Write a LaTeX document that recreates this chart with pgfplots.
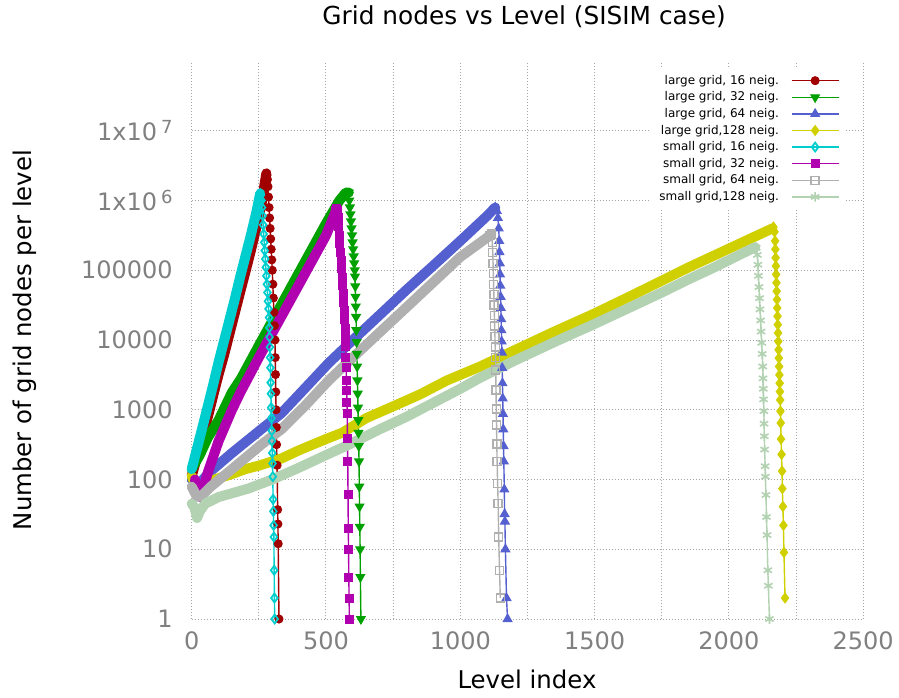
\documentclass[border=0pt]{standalone}
\usepackage{fontspec}
\setmainfont{DejaVu Sans}
\usepackage{pgfplots}
\pgfplotsset{compat=1.18}
\usetikzlibrary{calc}
\definecolor{cL16}{RGB}{160,0,0}
\definecolor{cL32}{RGB}{0,160,0}
\definecolor{cL64}{RGB}{85,96,208}
\definecolor{cL128}{RGB}{208,208,0}
\definecolor{cS16}{RGB}{0,206,206}
\definecolor{cS32}{RGB}{176,0,176}
\definecolor{cS64}{RGB}{176,176,176}
\definecolor{cS128}{RGB}{178,210,178}
\definecolor{gridc}{RGB}{165,165,165}
\definecolor{tickc}{RGB}{128,128,128}
\begin{document}
\begin{tikzpicture}
\begin{axis}[name=ax, scale only axis, width=335.75pt, height=279pt,
 xmin=0, xmax=2500, ymode=log, ymin=1, ymax=1e8,
 xtick={0,500,1000,1500,2000,2500}, xticklabels={0,500,1000,1500,2000,2500},
 minor x tick num=1,
 ytick={1,10,100,1000,10000,100000,1000000,10000000},
 yticklabels={1,10,100,1000,10000,100000,{1x10\,\raisebox{0.5ex}{\fontsize{9}{9}\selectfont 6}},{1x10\,\raisebox{0.5ex}{\fontsize{9}{9}\selectfont 7}}},
 xmajorgrids=true, xminorgrids=true, ymajorgrids=true, yminorgrids=false,
 major grid style={gridc, line width=0.5pt, dash pattern=on 0.5pt off 1pt},
 minor grid style={gridc, line width=0.5pt, dash pattern=on 0.5pt off 1pt},
 axis line style={draw=none},
 major tick length=0pt, minor tick length=0pt,
 tick label style={font=\fontsize{12}{14}\selectfont, text=tickc},
 yticklabel style={xshift=-6pt},
 xticklabel style={yshift=-3pt},
 clip=false,
 title={Grid nodes vs Level (SISIM case)},
 every axis title shift=0pt,
 every axis title/.style={at={(axis description cs:0.495,1.079)}, anchor=center, font=\fontsize{12.4}{14}\selectfont},
 xlabel={Level index},
 ylabel={Number of grid nodes per level},
 every axis x label/.style={at={(axis description cs:0.4993,-0.109)}, anchor=center, font=\fontsize{12.2}{14}\selectfont},
 every axis y label/.style={at={(axis description cs:-0.248,0.5)}, rotate=90, anchor=center, font=\fontsize{12.2}{14}\selectfont},
 legend style={at={(rel axis cs:0.974,0.9875)}, anchor=north east, draw=none, fill=white,
   font=\fontsize{6}{7}\selectfont, nodes={inner sep=1pt, text height=5pt, text depth=1.3pt},
   /tikz/every odd column/.append style={column sep=5pt}},
 legend cell align=right, legend plot pos=right,
 legend image code/.code={\draw[mark repeat=2,mark phase=2] plot coordinates {(0pt,0pt)(11.75pt,0pt)(23.5pt,0pt)};},
 band/.style={forget plot, no marks, line width=5pt, line join=round, line cap=round},
 desc/.style={line width=0.7pt, mark options={solid}},
]
% large grid, 16
\addplot[band, cL16] coordinates {(0,112)(20,210)(40,400)(60,790)(80,1600)(100,3200)(120,6000)(140,12000)(160,24000)(180,48000)(200,95000)(220,190000)(240,400000)(260,890000)(272,1780000)(278,2450000)};
\addplot[desc, cL16, mark=*, mark size=1.9pt] coordinates {(278,2450000)(280,2290000)(282,2000000)(284,1580000)(286,1120000)(288,794000)(290,562000)(292,398000)(294,282000)(296,200000)(298,141000)(300,100000)(302,63000)(304,40000)(306,25000)(308,16000)(310,10000)(311,5600)(312,3200)(313,1800)(314,1000)(315,560)(316,316)(318,160)(320,37)(321,23)(322,12)(325,1)};
\addlegendentry{large grid, 16 neig.}
% large grid, 32
\addplot[band, cL32] coordinates {(0,141)(30,224)(60,398)(100,708)(150,1780)(184,2820)(250,8320)(300,18600)(350,41700)(400,93300)(450,209000)(500,468000)(550,1000000)(574,1300000)(585,1300000)};
\addplot[desc, cL32, mark=triangle*, mark size=2.3pt, mark options={solid, rotate=180}] coordinates {(585,1300000)(587,1000000)(589,794000)(591,631000)(593,501000)(595,398000)(597,316000)(599,251000)(601,200000)(603,158000)(605,126000)(607,100000)(608,81300)(609,58900)(610,41700)(611,30200)(612,21400)(613,13800)(614,9330)(615,6310)(616,4170)(617,2630)(618,1700)(619,1070)(620,708)(621,468)(622,302)(623,182)(624,79)(625,41)(626,21)(627,10)(628,4)(630,1)};
\addlegendentry{large grid, 32 neig.}
% large grid, 64
\addplot[band, cL64] coordinates {(0,100)(30,89)(71,132)(150,240)(259,525)(334,891)(420,2000)(510,4680)(600,10000)(700,22900)(800,52500)(900,117000)(1000,263000)(1100,603000)(1130,794000)};
\addplot[desc, cL64, mark=triangle*, mark size=2.3pt] coordinates {(1130,794000)(1136,708000)(1140,562000)(1143,398000)(1145,263000)(1146,182000)(1147,126000)(1148,87100)(1149,60300)(1150,41700)(1151,28800)(1152,20000)(1153,13800)(1154,9550)(1155,6610)(1156,3980)(1157,2400)(1158,1450)(1159,870)(1160,525)(1161,302)(1162,182)(1164,72)(1165,32)(1166,25)(1168,10)(1172,2)(1176,1)};
\addlegendentry{large grid, 64 neig.}
% large grid, 128
\addplot[band, cL128] coordinates {(0,112)(10,89)(20,71)(30,63)(50,79)(86,100)(150,120)(200,141)(250,158)(334,200)(400,263)(450,316)(500,380)(560,468)(650,759)(750,1120)(850,1660)(950,2630)(1074,4170)(1200,7080)(1350,13200)(1500,24000)(1650,45700)(1750,70800)(1850,110000)(1950,166000)(2050,251000)(2162,398000)};
\addplot[desc, cL128, mark=diamond*, mark size=2.3pt] coordinates {(2162,398000)(2166,417000)(2170,355000)(2172,263000)(2173,200000)(2174,151000)(2175,115000)(2176,87100)(2177,66100)(2178,50100)(2179,38000)(2180,28800)(2181,21900)(2182,16600)(2183,12600)(2184,9550)(2185,7240)(2186,5500)(2187,4170)(2188,3160)(2189,2400)(2190,1820)(2191,1380)(2192,955)(2193,646)(2194,380)(2196,229)(2198,132)(2199,74)(2201,41)(2203,22)(2205,9)(2209,2)};
\addlegendentry{large grid,128 neig.}
% small grid, 16
\addplot[band, cS16] coordinates {(0,141)(20,280)(40,560)(60,1120)(80,2290)(100,4790)(120,9550)(140,19000)(160,38000)(180,79000)(200,158000)(220,316000)(240,660000)(255,1260000)};
\addplot[desc, cS16, mark=diamond, mark size=2.2pt, mark options={solid, line width=0.9pt}] coordinates {(255,1260000)(258,1200000)(260,1000000)(262,794000)(264,603000)(266,447000)(268,331000)(270,251000)(272,191000)(274,145000)(276,110000)(278,83000)(280,63000)(282,48000)(284,36000)(286,28000)(288,21000)(289,15000)(290,11000)(291,7900)(292,5600)(293,4000)(294,2450)(295,1700)(296,1070)(297,760)(298,500)(299,355)(300,240)(301,170)(302,110)(303,52)(304,35)(305,22)(306,15)(307,5)(308,2)(309,1)};
\addlegendentry{small grid, 16 neig.}
% small grid, 32
\addplot[band, cS32] coordinates {(12,100)(22,70)(34,56)(60,126)(100,355)(150,1000)(184,1860)(250,5620)(300,12600)(350,28200)(400,63100)(450,141000)(500,316000)(537,708000)};
\addplot[desc, cS32, mark=square*, mark size=1.9pt] coordinates {(537,708000)(540,759000)(543,708000)(546,562000)(548,417000)(550,316000)(552,240000)(554,182000)(556,138000)(558,105000)(560,79400)(562,60300)(564,45700)(566,34700)(568,26300)(570,20000)(571,14800)(572,11000)(573,7940)(574,5620)(575,3980)(576,2630)(577,1910)(578,1260)(579,870)(580,389)(581,182)(582,60)(583,20)(584,10)(585,4)(586,2)(587,1)};
\addlegendentry{small grid, 32 neig.}
% small grid, 64
\addplot[band, cS64] coordinates {(0,79)(20,56)(40,60)(71,79)(150,141)(259,316)(334,525)(420,1120)(510,2630)(600,5620)(700,12900)(800,29500)(900,67600)(1000,155000)(1111,316000)};
\addplot[desc, cS64, mark=square, mark size=2pt, mark options={solid, line width=0.7pt}] coordinates {(1111,316000)(1117,331000)(1119,251000)(1121,178000)(1122,126000)(1123,89100)(1124,63100)(1125,44700)(1126,31600)(1127,22400)(1128,15800)(1129,11200)(1130,7940)(1131,5620)(1132,3720)(1133,1910)(1134,1020)(1135,603)(1136,324)(1137,182)(1139,87)(1141,45)(1143,15)(1146,5)(1149,2)};
\addlegendentry{small grid, 64 neig.}
% small grid, 128
\addplot[band, cS128] coordinates {(0,45)(10,40)(20,28)(30,35)(50,45)(100,56)(210,74)(300,100)(400,148)(500,224)(585,316)(700,525)(800,794)(900,1260)(1000,2000)(1074,2880)(1200,5010)(1350,9330)(1500,17000)(1650,31600)(1750,47900)(1850,74100)(1950,112000)(2050,174000)(2098,214000)};
\addplot[desc, cS128, mark=asterisk, mark size=2.4pt, mark options={solid, line width=0.8pt}] coordinates {(2098,214000)(2102,209000)(2106,166000)(2108,120000)(2110,83200)(2112,57500)(2114,39800)(2116,27500)(2118,19100)(2120,13200)(2122,9120)(2124,6310)(2126,4170)(2127,2820)(2128,2000)(2129,1410)(2130,955)(2131,631)(2132,417)(2133,269)(2135,155)(2136,110)(2138,60)(2140,29)(2142,16)(2145,5)(2147,3)(2151,1)};
\addlegendentry{small grid,128 neig.}
\end{axis}
\pgfresetboundingbox
\path[use as bounding box] ($(ax.south west)+(-95.85pt,-39pt)$) rectangle ($(ax.north east)+(17.9pt,30.5pt)$);
\end{tikzpicture}
\end{document}
